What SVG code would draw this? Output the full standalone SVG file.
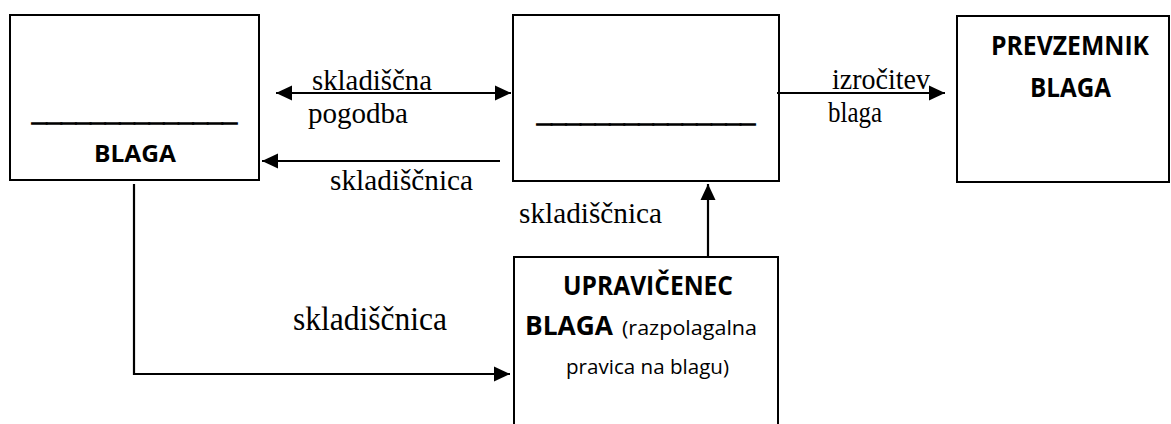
<svg xmlns="http://www.w3.org/2000/svg" width="1171" height="424" viewBox="0 0 1171 424">
<style>
.box{fill:#fff;stroke:#000;stroke-width:2}
.ln{fill:none;stroke:#000;stroke-width:2.2}
.ser{font-family:"Liberation Serif","Times New Roman",serif;fill:#000}
.b{font-family:"Open Sans","Noto Sans",sans-serif;font-weight:bold;fill:#000}
.r{font-family:"Open Sans","Noto Sans",sans-serif;font-weight:normal;fill:#000}
.us{font-family:"Liberation Sans",Arial,sans-serif;font-weight:bold;font-size:24px;fill:#000;stroke:#000;stroke-width:1.4}
</style>
<defs>
<marker id="ah" markerUnits="userSpaceOnUse" markerWidth="16" markerHeight="16" refX="16" refY="8" orient="auto-start-reverse" viewBox="0 0 16 16">
<path d="M0,0.5 L16,8 L0,15.5 Z" fill="#000"/>
</marker>
</defs>
<rect width="1171" height="424" fill="#fff"/>
<g id="node-skladiscnik">
<rect class="box" x="10" y="15" width="249" height="165"/>
<text class="us" x="32" y="121" textLength="205" lengthAdjust="spacingAndGlyphs">______________</text>
<text class="b" x="94" y="162" font-size="24" textLength="82" lengthAdjust="spacingAndGlyphs">BLAGA</text>
</g>
<g id="node-skladisce">
<rect class="box" x="513" y="15" width="266" height="166"/>
<text class="us" x="537" y="122" textLength="218" lengthAdjust="spacingAndGlyphs">_______________</text>
</g>
<g id="node-prevzemnik">
<rect class="box" x="957" y="16" width="212" height="166"/>
<text class="b" x="991" y="55" font-size="26" textLength="158" lengthAdjust="spacingAndGlyphs">PREVZEMNIK</text>
<text class="b" x="1030" y="97" font-size="26" textLength="81" lengthAdjust="spacingAndGlyphs">BLAGA</text>
</g>
<g id="node-upravicenec">
<rect class="box" x="514" y="257" width="264" height="180"/>
<text class="b" x="563" y="295" font-size="26" textLength="170" lengthAdjust="spacingAndGlyphs">UPRAVIČENEC</text>
<text class="b" x="525" y="335" font-size="26" textLength="88" lengthAdjust="spacingAndGlyphs">BLAGA</text>
<text class="r" x="622" y="335" font-size="20" textLength="135" lengthAdjust="spacingAndGlyphs">(razpolagalna</text>
<text class="r" x="566" y="374" font-size="20" textLength="163" lengthAdjust="spacingAndGlyphs">pravica na blagu)</text>
</g>
<g id="connectors">
<line class="ln" x1="276" y1="93" x2="511" y2="93" marker-start="url(#ah)" marker-end="url(#ah)"/>
<line class="ln" x1="500" y1="161" x2="262" y2="161" marker-end="url(#ah)"/>
<line class="ln" x1="777" y1="93" x2="945" y2="93" marker-end="url(#ah)"/>
<line class="ln" x1="708" y1="257" x2="708" y2="184" marker-end="url(#ah)"/>
<polyline class="ln" points="134,184 134,374 510,374" marker-end="url(#ah)"/>
</g>
<g id="labels">
<text class="ser" x="312" y="90" font-size="29" textLength="120" lengthAdjust="spacingAndGlyphs">skladiščna</text>
<text class="ser" x="308" y="123" font-size="30" textLength="100" lengthAdjust="spacingAndGlyphs">pogodba</text>
<text class="ser" x="330" y="190" font-size="29" textLength="143" lengthAdjust="spacingAndGlyphs">skladiščnica</text>
<text class="ser" x="832" y="89" font-size="29" textLength="98" lengthAdjust="spacingAndGlyphs">izročitev</text>
<text class="ser" x="828" y="122" font-size="29" textLength="54" lengthAdjust="spacingAndGlyphs">blaga</text>
<text class="ser" x="519" y="223" font-size="29" textLength="143" lengthAdjust="spacingAndGlyphs">skladiščnica</text>
<text class="ser" x="293" y="330" font-size="33" textLength="154" lengthAdjust="spacingAndGlyphs">skladiščnica</text>
</g>
</svg>
